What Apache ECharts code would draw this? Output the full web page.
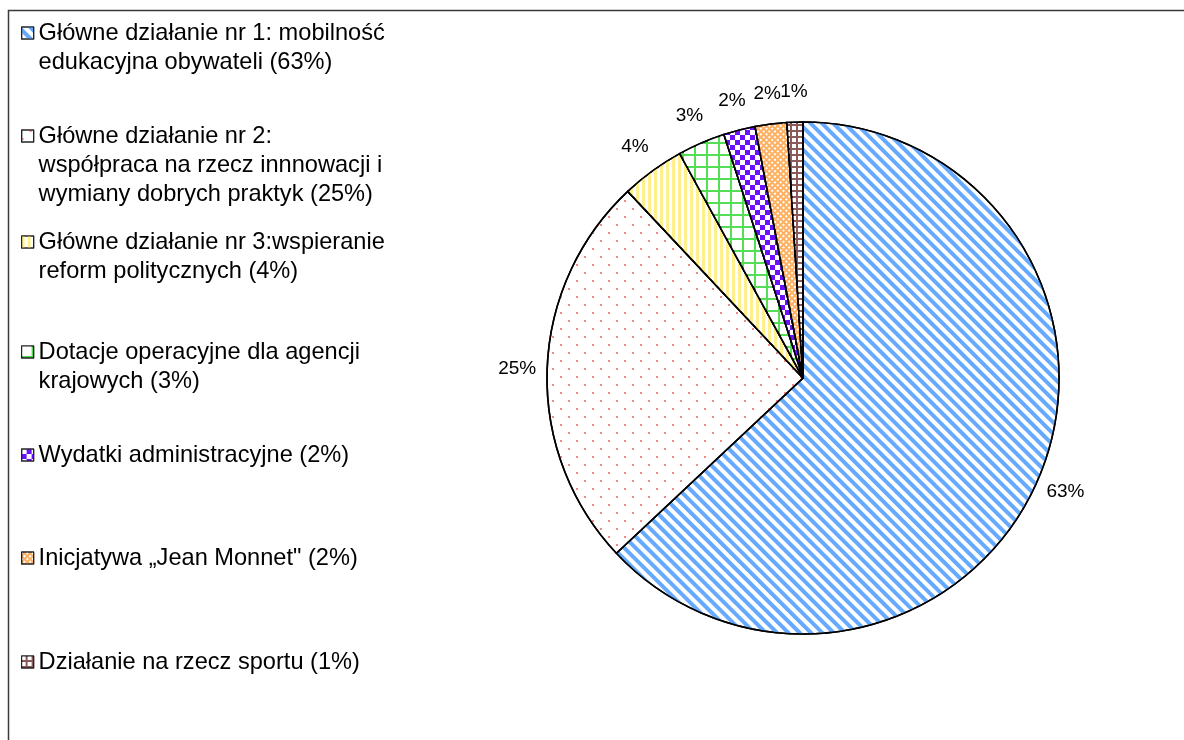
<!DOCTYPE html>
<html>
<head>
<meta charset="utf-8">
<script src="https://cdn.jsdelivr.net/npm/echarts@6/dist/echarts.min.js"></script>
<style>
  html, body { margin: 0; padding: 0; background: #ffffff; }
  #chart { width: 1184px; height: 740px; }
</style>
</head>
<body>
<div id="chart"></div>
<script>
// ---- data ----
const categories = [
  'Główne działanie nr 1: mobilność edukacyjna obywateli (63%)',
  'Główne działanie nr 2: współpraca na rzecz innnowacji i wymiany dobrych praktyk (25%)',
  'Główne działanie nr 3:wspieranie reform politycznych (4%)',
  'Dotacje operacyjne dla agencji krajowych (3%)',
  'Wydatki administracyjne (2%)',
  'Inicjatywa „Jean Monnet" (2%)',
  'Działanie na rzecz sportu (1%)'
];
const values = [63, 25, 4, 3, 2, 2, 1];
const legendLabels = [
  'Główne działanie nr 1: mobilność\nedukacyjna obywateli (63%)',
  'Główne działanie nr 2:\nwspółpraca na rzecz innnowacji i\nwymiany dobrych praktyk (25%)',
  'Główne działanie nr 3:wspieranie\nreform politycznych (4%)',
  'Dotacje operacyjne dla agencji\nkrajowych (3%)',
  'Wydatki administracyjne (2%)',
  'Inicjatywa „Jean Monnet" (2%)',
  'Działanie na rzecz sportu (1%)'
];

// ---- styles ----
const fills = [
  { color: '#ffffff', decal: { symbol: 'rect', color: '#66aaff', dashArrayX: [1, 0], dashArrayY: [3.2, 4], rotation: Math.PI / 4, symbolKeepAspect: false } },
  { color: '#ffffff', decal: { symbol: 'circle', color: '#f06060', dashArrayX: [[2, 13.5], [0, 7.75, 2, 5.75]], dashArrayY: [2, 5.7], symbolKeepAspect: true } },
  { color: '#ffffff', decal: { symbol: 'rect', color: '#fff08c', dashArrayX: [2.5, 2.5], dashArrayY: [10, 0], symbolKeepAspect: false } },
  { color: '#55dd55', decal: { symbol: 'rect', color: '#ffffff', dashArrayX: [10, 1.5], dashArrayY: [10, 1.5], symbolKeepAspect: false } },
  { color: '#ffffff', decal: { symbol: 'rect', color: '#6a10ff', dashArrayX: [[5, 5], [0, 5, 5, 0]], dashArrayY: [5, 0], symbolKeepAspect: false } },
  { color: '#ffb060', decal: { symbol: 'rect', color: '#ffffff', dashArrayX: [2, 1.3], dashArrayY: [2, 1.3], rotation: Math.PI / 4, symbolKeepAspect: false } },
  { color: '#8c5a5a', decal: { symbol: 'rect', color: '#ffffff', dashArrayX: [4, 1.6], dashArrayY: [4, 1.6], symbolKeepAspect: false } }
];

const LINE_H = 29;
const firstLineCenters = [33, 136, 242, 352, 455, 558, 662];

const chart = echarts.init(document.getElementById('chart'), null, { renderer: 'canvas' });

const legends = categories.map(function (name, i) {
  const lines = legendLabels[i].split('\n');
  // pad with blank lines above so that the first text line sits level with the icon
  const padded = new Array(lines.length - 1).fill(' ').concat(lines).join('\n');
  return {
    show: true,
    orient: 'vertical',
    left: 21,
    top: firstLineCenters[i] - (2 * lines.length - 1) * LINE_H / 2,
    padding: 0,
    itemWidth: 12,
    itemHeight: 12,
    itemGap: 0,
    selectedMode: false,
    icon: 'rect',
    data: [name],
    formatter: function () { return padded; },
    itemStyle: { borderColor: '#222222', borderWidth: 1.2 },
    textStyle: {
      fontFamily: 'Liberation Sans',
      fontSize: 23.6,
      color: '#000000',
      lineHeight: LINE_H
    }
  };
});

const pieData = categories.map(function (name, i) {
  return {
    name: name,
    value: values[i],
    itemStyle: { color: fills[i].color, decal: fills[i].decal }
  };
});
const labelData = categories.map(function (name, i) {
  return { name: name, value: values[i] };
});

chart.setOption({
  backgroundColor: '#ffffff',
  animation: false,
  legend: legends,
  graphic: [{
    type: 'rect',
    shape: { x: 8.5, y: 10.5, width: 1400, height: 1000 },
    style: { fill: 'none', stroke: '#3a3a3a', lineWidth: 1.5 },
    silent: true,
    z: 0
  }],
  series: [
    {
      type: 'pie',
      center: [803, 378],
      radius: 256,
      startAngle: 90,
      clockwise: true,
      silent: true,
      label: { show: false },
      labelLine: { show: false },
      emphasis: { disabled: true },
      itemStyle: { borderColor: '#000000', borderWidth: 1.6 },
      data: pieData
    },
    {
      type: 'pie',
      center: [803, 378],
      radius: [256, 310],
      startAngle: 90,
      clockwise: true,
      silent: true,
      avoidLabelOverlap: false,
      minShowLabelAngle: 0,
      labelLayout: { hideOverlap: false },
      emphasis: { disabled: true },
      itemStyle: { color: 'rgba(0,0,0,0)', borderWidth: 0 },
      labelLine: { show: false },
      label: {
        show: true,
        position: 'inside',
        overflow: 'none',
        formatter: '{c}%',
        fontFamily: 'Liberation Sans',
        fontSize: 19,
        color: '#000000'
      },
      data: labelData
    }
  ]
});
</script>
</body>
</html>
